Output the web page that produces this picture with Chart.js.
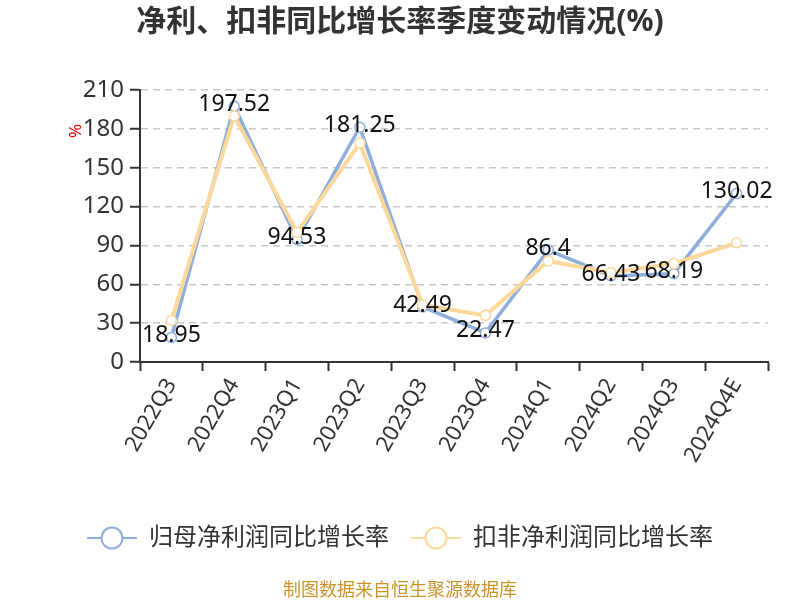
<!DOCTYPE html>
<html>
<head>
<meta charset="utf-8">
<script src="https://cdn.jsdelivr.net/npm/chart.js@4/dist/chart.umd.min.js"></script>
<style>
  html, body { margin: 0; padding: 0; background: #fff; }
  #wrap { width: 800px; height: 600px; }
</style>
</head>
<body>
<div id="wrap"><canvas id="growthChart" width="800" height="600"></canvas></div>
<script>
const quarters = ["2022Q3", "2022Q4", "2023Q1", "2023Q2", "2023Q3", "2023Q4", "2024Q1", "2024Q2", "2024Q3", "2024Q4E"];
const netProfitGrowth = [18.95, 197.52, 94.53, 181.25, 42.49, 22.47, 86.4, 66.43, 68.19, 130.02];
const deductedProfitGrowth = [32, 190, 100, 169, 44, 36, 78, 69, 76, 92];
const yTicks = [0, 30, 60, 90, 120, 150, 180, 210];

const FONT = "'Noto Sans', 'Noto Sans CJK SC', sans-serif";
const BLUE = "#8eaedc";
const YELLOW = "#fdd89b";

// legend marker: short line with a hollow circle
function legendIcon(color) {
  const c = document.createElement("canvas");
  c.width = 50;
  c.height = 26;
  const g = c.getContext("2d");
  g.strokeStyle = color;
  g.lineWidth = 2;
  g.beginPath();
  g.moveTo(0, 13);
  g.lineTo(50, 13);
  g.stroke();
  g.fillStyle = "#fff";
  g.beginPath();
  g.arc(25, 13, 10.5, 0, Math.PI * 2);
  g.fill();
  g.stroke();
  return c;
}

// value labels for the first series
const valueLabels = {
  id: "valueLabels",
  afterDatasetsDraw(chart) {
    const ctx = chart.ctx;
    const meta = chart.getDatasetMeta(0);
    ctx.save();
    ctx.font = "23px " + FONT;
    ctx.fillStyle = "#111";
    ctx.textAlign = "center";
    ctx.textBaseline = "middle";
    meta.data.forEach((pt, i) => {
      ctx.fillText(String(netProfitGrowth[i]), pt.x, pt.y - 2);
    });
    ctx.restore();
  },
};

// small red unit mark left of the y axis
const unitMark = {
  id: "unitMark",
  afterDraw(chart) {
    const ctx = chart.ctx;
    ctx.save();
    ctx.translate(76, 131);
    ctx.rotate(-Math.PI / 2);
    ctx.font = "17px " + FONT;
    ctx.fillStyle = "#e00000";
    ctx.textAlign = "center";
    ctx.textBaseline = "middle";
    ctx.fillText("%", 0, 0);
    ctx.restore();
  },
};

const ctx = document.getElementById("growthChart").getContext("2d");
new Chart(ctx, {
  type: "line",
  data: {
    labels: quarters,
    datasets: [
      {
        label: "归母净利润同比增长率",
        data: netProfitGrowth,
        order: 1,
        borderColor: BLUE,
        backgroundColor: "#fff",
        borderWidth: 3.5,
        pointRadius: 5,
        pointBorderWidth: 1.5,
        pointBorderColor: BLUE,
        pointBackgroundColor: "#fff",
        tension: 0,
      },
      {
        label: "扣非净利润同比增长率",
        data: deductedProfitGrowth,
        order: 0,
        borderColor: YELLOW,
        backgroundColor: "#fff",
        borderWidth: 4,
        pointRadius: 5,
        pointBorderWidth: 1.5,
        pointBorderColor: YELLOW,
        pointBackgroundColor: "#fff",
        tension: 0,
      },
    ],
  },
  options: {
    responsive: false,
    animation: false,
    layout: { padding: { left: 32, right: 32, top: 0, bottom: 0 } },
    plugins: {
      title: {
        display: true,
        text: "净利、扣非同比增长率季度变动情况(%)",
        color: "#333",
        font: { family: FONT, size: 30, weight: "bold" },
        padding: { top: 4, bottom: 50 },
      },
      subtitle: {
        display: true,
        position: "bottom",
        text: "制图数据来自恒生聚源数据库",
        color: "#c9952b",
        font: { family: FONT, size: 18, lineHeight: 1 },
        padding: { top: 22, bottom: 0 },
      },
      legend: {
        position: "bottom",
        labels: {
          usePointStyle: true,
          pointStyleWidth: 50,
          boxHeight: 24,
          color: "#333",
          font: { family: FONT, size: 24 },
          padding: 22,
          generateLabels(chart) {
            return chart.data.datasets.map((ds, i) => ({
              text: ds.label,
              pointStyle: legendIcon(ds.borderColor),
              fillStyle: ds.borderColor,
              strokeStyle: ds.borderColor,
              lineWidth: 0,
              fontColor: "#333",
              datasetIndex: i,
              hidden: false,
            }));
          },
        },
      },
      tooltip: { enabled: false },
    },
    scales: {
      x: {
        offset: true,
        afterFit(axis) {
          axis.height = 142;
        },
        grid: {
          offset: true,
          drawOnChartArea: false,
          drawTicks: true,
          tickLength: 9,
          tickColor: "#333",
          tickWidth: 2,
        },
        border: { color: "#333", width: 2 },
        ticks: {
          color: "#333",
          font: { family: FONT, size: 22 },
          minRotation: 60,
          maxRotation: 60,
          autoSkip: false,
          padding: 3,
        },
      },
      y: {
        min: 0,
        max: 210,
        afterBuildTicks(axis) {
          axis.ticks = yTicks.map((v) => ({ value: v }));
        },
        afterFit(axis) {
          axis.width = 108;
        },
        grid: {
          color: "#c8c8c8",
          lineWidth: 1.5,
          drawTicks: true,
          tickLength: 10,
          tickColor: "#333",
          tickWidth: 2,
          tickBorderDash: [],
        },
        border: { color: "#333", width: 2, dash: [7, 5] },
        ticks: {
          color: "#333",
          font: { family: FONT, size: 24 },
          padding: 6,
        },
      },
    },
  },
  plugins: [valueLabels, unitMark],
});
</script>
</body>
</html>
